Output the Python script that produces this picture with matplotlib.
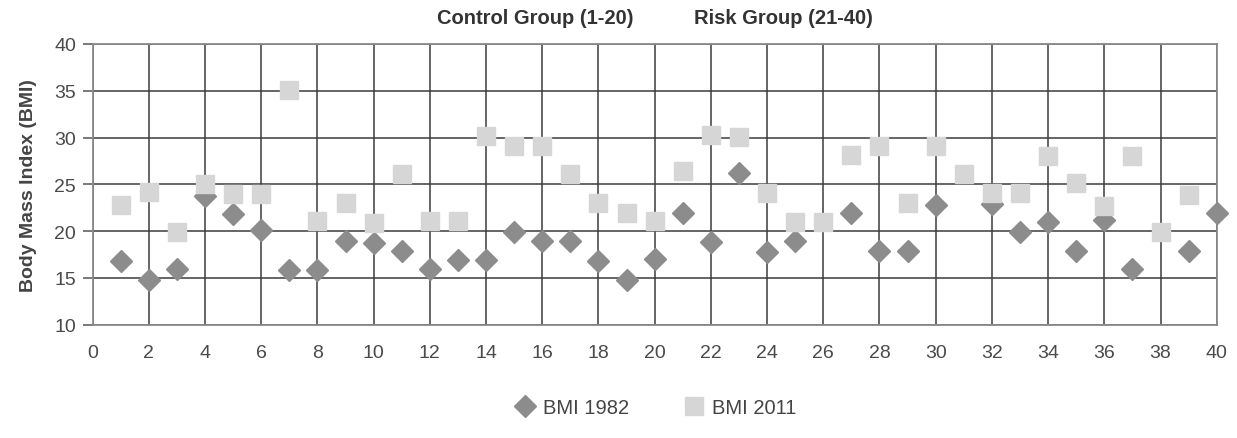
import numpy as np
import matplotlib
matplotlib.use("Agg")
import matplotlib.pyplot as plt
from matplotlib.lines import Line2D

nan = np.nan
subjects = list(range(1, 41))
bmi_1982 = [16.8, 14.8, 16.0, 23.8, 21.8, 20.1, 15.8, 15.8, 19.0, 18.7,
            17.9, 15.95, 16.95, 16.95, 19.95, 18.9, 18.9, 16.85, 14.8, 17.0,
            21.9, 18.8, 26.2, 17.8, 19.0, nan, 21.9, 17.9, 17.9, 22.8,
            nan, 22.9, 19.9, 21.0, 17.9, 21.2, 15.95, nan, 17.9, 21.9]
bmi_2011 = [22.8, 24.15, 19.9, 25.0, 24.0, 24.0, 35.1, 21.1, 23.0, 20.9,
            26.1, 21.1, 21.1, 30.2, 29.06, 29.06, 26.1, 23.0, 21.9, 21.1,
            26.4, 30.3, 30.1, 24.1, 21.0, 21.0, 28.1, 29.1, 23.0, 29.06,
            26.1, 24.1, 24.1, 28.0, 25.1, 22.7, 28.0, 19.9, 23.9, nan]
x_ticks = list(range(0, 41, 2))
y_ticks = list(range(10, 41, 5))
series_labels = ["BMI 1982", "BMI 2011"]
group_labels = ["Control Group (1-20)", "Risk Group (21-40)"]

plt.rcParams['font.family'] = ['Liberation Sans', 'DejaVu Sans']

c_dia = '#8c8c8c'
c_sq = '#d6d6d6'
grid_c = '#3c3c3c'
tick_c = '#4a4a4a'

fig = plt.figure(figsize=(12.37, 4.39), dpi=100)
ax = fig.add_axes([0.0749, 0.258, 0.9087, 0.6395])

ax.plot(subjects, bmi_1982, linestyle='none', marker='D', ms=11.5,
        color=c_dia, mec=c_dia, clip_on=False, zorder=3)
ax.plot(subjects, bmi_2011, linestyle='none', marker='s', ms=13.5,
        color=c_sq, mec=c_sq, clip_on=False, zorder=4)

ax.set_xlim(0, 40)
ax.set_ylim(10, 40)
ax.set_xticks(x_ticks)
ax.set_yticks(y_ticks)
ax.grid(True, color=grid_c, linewidth=1.1, zorder=1)
ax.set_axisbelow(True)
for s in ax.spines.values():
    s.set_color('#8a8a8a')
    s.set_linewidth(1.3)
ax.tick_params(axis='y', length=7, width=1.1, color='#555555',
               labelsize=14, labelcolor=tick_c, pad=5)
ax.tick_params(axis='x', length=0, labelsize=14, labelcolor=tick_c, pad=14)

ax.set_ylabel('Body Mass Index (BMI)', fontsize=14, fontweight='bold',
              color='#444444', labelpad=12)

fig.text(0.4325, 0.957, group_labels[0], ha='center', va='center',
         fontsize=14.5, fontweight='bold', color='#333333')
fig.text(0.6334, 0.957, group_labels[1], ha='center', va='center',
         fontsize=14.5, fontweight='bold', color='#333333')

handles = [Line2D([], [], linestyle='none', marker='D', ms=11.5, color=c_dia),
           Line2D([], [], linestyle='none', marker='s', ms=13.5, color=c_sq)]
leg = fig.legend(handles, series_labels, loc='center', ncol=2,
                 bbox_to_anchor=(0.53, 0.07), frameon=False, fontsize=14.5,
                 handletextpad=0.4, columnspacing=2.7, handlelength=1.0)
for t in leg.get_texts():
    t.set_color('#444444')

fig.savefig('out.png', dpi=100)
